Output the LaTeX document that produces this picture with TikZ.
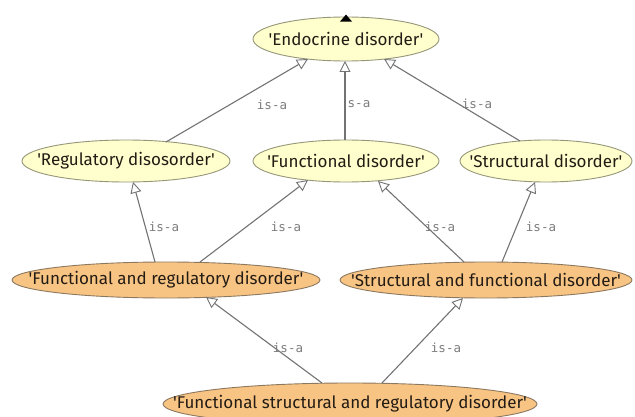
\documentclass[tikz,border=0pt]{standalone}
\usepackage{fontspec}
\newfontfamily\nodefont{Fira Sans}
\newfontfamily\labfont{DejaVu Sans Mono}
\usetikzlibrary{shapes.geometric,arrows.meta,calc}
\definecolor{yel}{RGB}{255,255,206}
\definecolor{yelborder}{RGB}{150,150,120}
\definecolor{org}{RGB}{248,196,132}
\definecolor{orgborder}{RGB}{140,120,95}
\definecolor{edgec}{RGB}{115,115,115}
\definecolor{labc}{RGB}{125,125,125}
\definecolor{txtc}{RGB}{35,28,20}
\tikzset{
  concept/.style={ellipse, inner xsep=-90pt, inner ysep=-20pt, line width=0.9pt,
    font=\nodefont\fontsize{17}{19}\selectfont, text=txtc},
  yconcept/.style={concept, draw=yelborder, fill=yel},
  oconcept/.style={concept, draw=orgborder, fill=org},
  isa/.style={draw=edgec, line width=1.1pt,
    -{Triangle[length=11pt,width=11pt,fill=white,line width=0.9pt]}},
  isalab/.style={font=\labfont\fontsize{12.5}{14}\selectfont, text=labc, inner sep=0pt}
}
\begin{document}
\begin{tikzpicture}[x=1pt,y=-1pt]
\useasboundingbox (0,0) rectangle (635,417);
\clip (0,0) rectangle (635,417);
\fill[white] (0,0) rectangle (635,417);

\node[yconcept, minimum width=186pt, minimum height=44pt] (endo) at (346,39) {'Endocrine disorder'};
\node[yconcept, minimum width=208pt, minimum height=42pt] (reg) at (126,161) {'Regulatory disosorder'};
\node[yconcept, minimum width=186pt, minimum height=42pt] (func) at (346,161) {'Functional disorder'};
\node[yconcept, minimum width=172pt, minimum height=42pt] (struc) at (546,161) {'Structural disorder'};
\node[oconcept, minimum width=308pt, minimum height=36pt] (fr) at (166,280) {'Functional and regulatory disorder'};
\node[oconcept, minimum width=292pt, minimum height=36pt] (sf) at (486,280) {'Structural and functional disorder'};
\node[oconcept, minimum width=374pt, minimum height=42pt] (fsr) at (350,404) {'Functional structural and regulatory disorder'};

% small black triangle on top of the root
\fill[black] ($(endo.north)+(0,-2)$) -- ++(-6,7) -- ++(12,0) -- cycle;

% is-a edges
\draw[isa] ($(reg.center)+(40,-19)$) -- ($(endo.center)+(-38,20)$);
\draw[isa] ($(func.center)+(-1,-21)$) -- ($(endo.center)+(-1,22)$);
\draw[isa] ($(struc.center)+(-26,-20)$) -- ($(endo.center)+(38,20)$);
\draw[isa] ($(fr.center)+(-11,-18)$) -- ($(reg.center)+(7,21)$);
\draw[isa] ($(fr.center)+(34,-18)$) -- ($(func.center)+(-38,19)$);
\draw[isa] ($(sf.center)+(-22,-18)$) -- ($(func.center)+(32,20)$);
\draw[isa] ($(sf.center)+(16,-18)$) -- ($(struc.center)+(-11,21)$);
\draw[isa] ($(fsr.center)+(-28,-21)$) -- ($(fr.center)+(40,17)$);
\draw[isa] ($(fsr.center)+(32,-21)$) -- ($(sf.center)+(-23,18)$);

% labels
\node[isalab] (l1) at (272,105) {is-a};
\node[isalab] (l2) at (359,104) {s-a};
\node[isalab] (l3) at (477,104) {is-a};
\node[isalab] (l4) at (164,227) {is-a};
\node[isalab] (l5) at (286,227) {is-a};
\node[isalab] (l6) at (440,227) {is-a};
\node[isalab] (l7) at (541,227) {is-a};
\node[isalab] (l8) at (288,348) {is-a};
\node[isalab] (l9) at (446,348) {is-a};
\end{tikzpicture}
\end{document}
